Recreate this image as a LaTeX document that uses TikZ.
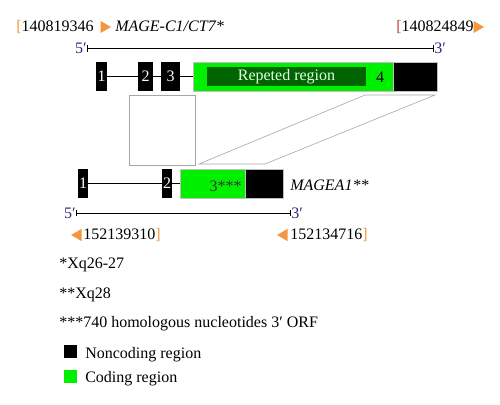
\documentclass[tikz,border=0pt]{standalone}
\usepackage{fontspec}
\setmainfont{Liberation Serif}
\usetikzlibrary{shapes.geometric}
\definecolor{tagorange}{RGB}{243,150,62}
\definecolor{tagred}{RGB}{185,70,55}
\definecolor{endblue}{RGB}{40,40,120}
\definecolor{repgreen}{RGB}{0,100,0}
\definecolor{codgreen}{RGB}{0,240,0}

\begin{document}
\begin{tikzpicture}[x=1pt, y=-1pt, line width=0.6pt, font=\fontsize{16}{19}\selectfont,
  every node/.style={inner sep=0pt},
  exon/.style={fill=black, text=white, minimum height=29pt},
  coding/.style={fill=codgreen, draw=gray!50, minimum height=29pt},
  noncoding/.style={fill=black, draw=gray!50, minimum height=29pt},
  tag/.style={isosceles triangle, isosceles triangle apex angle=60, fill=tagorange, minimum size=10.5pt},
  prime/.style={text=endblue},
  key/.style={minimum size=13pt}]
  \useasboundingbox (0,0) rectangle (500,404);
  \node[anchor=base west] (startc) at (16,32) {\textcolor{tagorange}{[}140819346};
  \node[tag] (tagc) at (104,27) {};
  \node[anchor=base west] (genec) at (115,32) {\itshape MAGE-C1/CT7*};
  \node[anchor=base west] (endc) at (396,32) {\textcolor{tagred}{[}140824849};
  \node[tag] (tagc2) at (477,27) {};
  \node[prime, anchor=east] (p5a) at (87,48.5) {5′};
  \node[prime, anchor=west] (p3a) at (434,48.5) {3′};
  \draw[|-|] (p5a) -- (p3a);
  \node[exon, minimum width=11pt] (ex1) at (101.5,76.5) {1};
  \node[exon, minimum width=15pt] (ex2) at (145.5,76.5) {2};
  \node[exon, minimum width=19pt] (ex3) at (170.5,76.5) {3};
  \node[coding, minimum width=200pt] (cod1) at (293,76.5) {};
  \node[noncoding, minimum width=44pt] (nc1) at (415,76.5) {};
  \node[fill=repgreen, text=white!90!green, minimum width=159pt, minimum height=19pt] (rep) at (286.5,76.5) {Repeted region};
  \node (n4) at (380,77) {4};
  \draw (ex1) -- (ex2);
  \draw (ex2) -- (ex3);
  \draw (ex3) -- (cod1);
  \draw[gray!70] (129,95) rectangle (195,165);
  \draw[gray!70] (365,95) -- (435,95) -- (265,164) -- (199,164) -- cycle;
  \node[exon, minimum width=10pt] (ex1b) at (83,183.5) {1};
  \node[exon, minimum width=10pt] (ex2b) at (167,183.5) {2};
  \node[coding, minimum width=65pt] (cod2) at (212.5,183.5) {};
  \node[noncoding, minimum width=38pt] (nc2) at (264,183.5) {};
  \node[anchor=base east, text=black!80] (n3) at (242,191.5) {3***};
  \node[anchor=base west] (genea) at (290,190.5) {\itshape MAGEA1**};
  \draw (ex1b) -- (ex2b);
  \draw (ex2b) -- (cod2);
  \node[prime, anchor=east] (p5b) at (76,213) {5′};
  \node[prime, anchor=west] (p3b) at (291,213) {3′};
  \draw[|-|] (p5b) -- (p3b);
  \node[tag, shape border rotate=180] (taga) at (78,235) {};
  \node[anchor=base west] (starta) at (83,239) {152139310\textcolor{tagorange}{]}};
  \node[tag, shape border rotate=180] (taga2) at (284,235) {};
  \node[anchor=base west] (enda) at (290,239) {152134716\textcolor{tagorange}{]}};
  \node[anchor=base west] (note1) at (59,268) {*Xq26-27};
  \node[anchor=base west] (note2) at (59,298) {**Xq28};
  \node[anchor=base west] (note3) at (59,327) {***740 homologous nucleotides 3′ ORF};
  \node[key, fill=black] (nckey) at (70,351.5) {};
  \node[anchor=base west] (nclab) at (85,358) {Noncoding region};
  \node[key, fill=codgreen] (ckey) at (70,376) {};
  \node[anchor=base west] (clab) at (85,382) {Coding region};
\end{tikzpicture}
\end{document}
